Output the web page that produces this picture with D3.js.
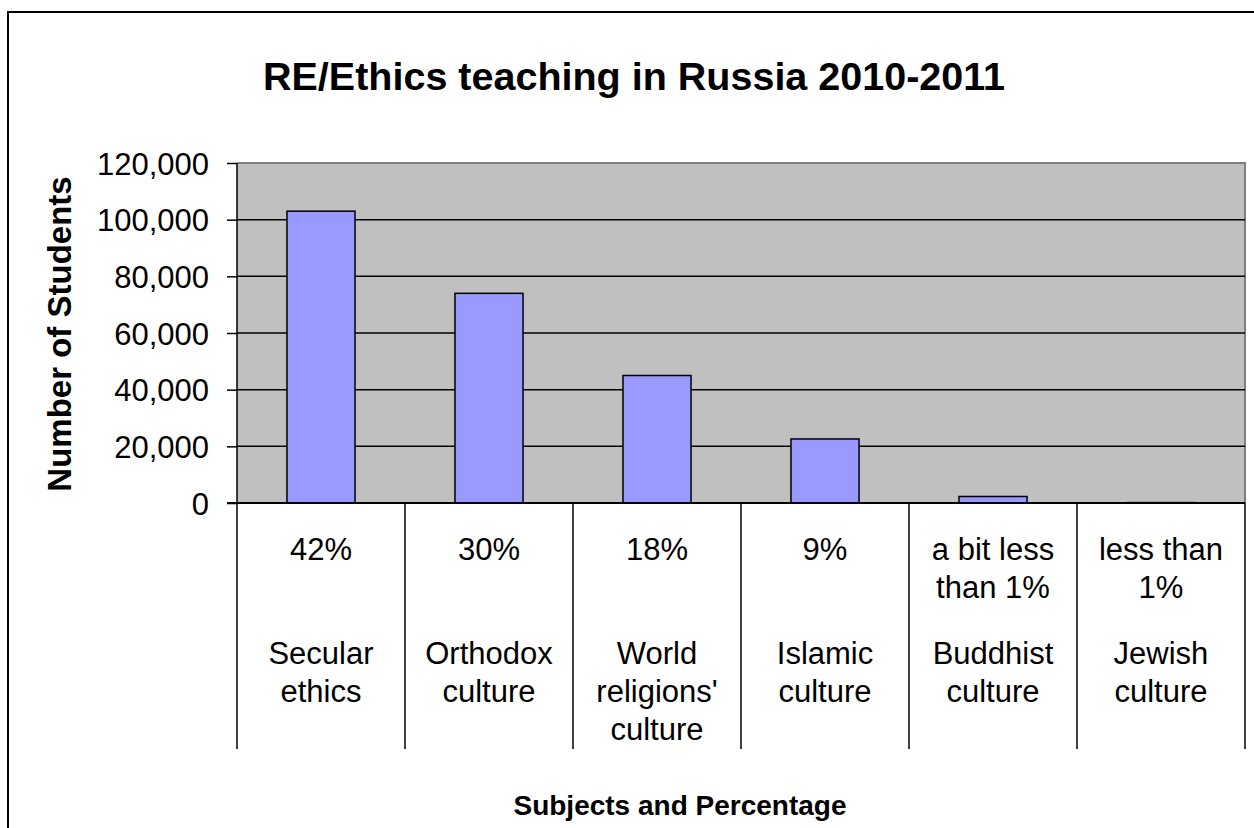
<!DOCTYPE html>
<html>
<head>
<meta charset="utf-8">
<script src="https://cdn.jsdelivr.net/npm/d3@7"></script>
<style>
  body { margin: 0; background: #fff; }
  text { font-family: "Liberation Sans", Arial, sans-serif; fill: #000; }
</style>
</head>
<body>
<svg id="chart" width="1254" height="828"></svg>
<script>
// chart data
var subjects = [["Secular", "ethics"], ["Orthodox", "culture"], ["World", "religions'", "culture"],
                ["Islamic", "culture"], ["Buddhist", "culture"], ["Jewish", "culture"]];
var shares = [["42%"], ["30%"], ["18%"], ["9%"], ["a bit less", "than 1%"], ["less than", "1%"]];
var students = [103000, 74000, 45000, 22600, 2300, 150];
var yTicks = [0, 20000, 40000, 60000, 80000, 100000, 120000];

var svg = d3.select("#chart");
var plotL = 237, plotR = 1245, plotT = 163, plotB = 503;

// outer frame (runs off the picture at right and bottom)
svg.append("rect")
    .attr("x", 8).attr("y", 12)
    .attr("width", 1300).attr("height", 900)
    .style("fill", "none").style("stroke", "#000").style("stroke-width", 2);

var x = d3.scaleBand()
    .domain(d3.range(subjects.length))
    .range([plotL, plotR]);

var y = d3.scaleLinear()
    .domain([0, 120000])
    .range([plotB, plotT]);

// plot background
svg.append("rect")
    .attr("x", plotL).attr("y", plotT)
    .attr("width", plotR - plotL).attr("height", plotB - plotT)
    .style("fill", "#c0c0c0");

// top and right border of plot area
svg.append("path")
    .attr("d", "M" + plotL + "," + plotT + "H" + plotR + "V" + plotB)
    .style("fill", "none").style("stroke", "#808080").style("stroke-width", 2);

// gridlines
svg.append("g").selectAll("line")
    .data(yTicks.filter(d => d > 0 && d < 120000))
    .enter().append("line")
    .attr("x1", plotL).attr("x2", plotR)
    .attr("y1", d => y(d)).attr("y2", d => y(d))
    .style("stroke", "#000").style("stroke-width", 1.5);

// bars
var barW = x.bandwidth() * 0.405;
svg.append("g").selectAll("rect")
    .data(students)
    .enter().append("rect")
    .attr("x", (d, i) => x(i) + (x.bandwidth() - barW) / 2)
    .attr("y", d => y(d))
    .attr("width", barW)
    .attr("height", d => plotB - y(d))
    .style("fill", "#9999ff")
    .style("stroke", "#000")
    .style("stroke-width", 1.5);

// y axis
var yAxis = svg.append("g")
    .attr("transform", "translate(" + plotL + ",0)")
    .call(d3.axisLeft(y).tickValues(yTicks).tickFormat(d3.format(",")).tickSize(10).tickPadding(18));
yAxis.select(".domain").attr("d", "M0," + plotT + "V" + plotB).style("stroke-width", 1.5);
yAxis.selectAll(".tick line").style("stroke-width", 1.5);
yAxis.selectAll("text")
    .style("font-size", "31px")
    .attr("font-family", null)
    .attr("dy", "0.36em");

// category axis: baseline and dividers
svg.append("line")
    .attr("x1", plotL - 10).attr("x2", plotR)
    .attr("y1", plotB).attr("y2", plotB)
    .style("stroke", "#000").style("stroke-width", 2);

svg.append("g").selectAll("line")
    .data(d3.range(subjects.length + 1))
    .enter().append("line")
    .attr("x1", i => i < subjects.length ? x(i) : plotR)
    .attr("x2", i => i < subjects.length ? x(i) : plotR)
    .attr("y1", plotB).attr("y2", 749)
    .style("stroke", "#000").style("stroke-width", 1.5);

// percentage rows
var pct = svg.append("g").selectAll("text")
    .data(shares)
    .enter().append("text")
    .attr("x", (d, i) => x(i) + x.bandwidth() / 2)
    .attr("y", 560)
    .attr("text-anchor", "middle")
    .style("font-size", "31px");
pct.selectAll("tspan")
    .data(d => d)
    .enter().append("tspan")
    .attr("x", function () { return this.parentNode.getAttribute("x"); })
    .attr("dy", (d, i) => i === 0 ? 0 : 38)
    .text(d => d);

// subject name rows
var names = svg.append("g").selectAll("text")
    .data(subjects)
    .enter().append("text")
    .attr("x", (d, i) => x(i) + x.bandwidth() / 2)
    .attr("y", 664)
    .attr("text-anchor", "middle")
    .style("font-size", "31px");
names.selectAll("tspan")
    .data(d => d)
    .enter().append("tspan")
    .attr("x", function () { return this.parentNode.getAttribute("x"); })
    .attr("dy", (d, i) => i === 0 ? 0 : 38)
    .text(d => d);

// titles
svg.append("text")
    .attr("x", 634).attr("y", 90)
    .attr("text-anchor", "middle")
    .style("font-size", "39.5px").style("font-weight", "bold")
    .text("RE/Ethics teaching in Russia 2010-2011");

svg.append("text")
    .attr("transform", "translate(71,334) rotate(-90)")
    .attr("text-anchor", "middle")
    .style("font-size", "33px").style("font-weight", "bold")
    .text("Number of Students");

svg.append("text")
    .attr("x", 680).attr("y", 815)
    .attr("text-anchor", "middle")
    .style("font-size", "28px").style("font-weight", "bold")
    .text("Subjects and Percentage");
</script>
</body>
</html>
